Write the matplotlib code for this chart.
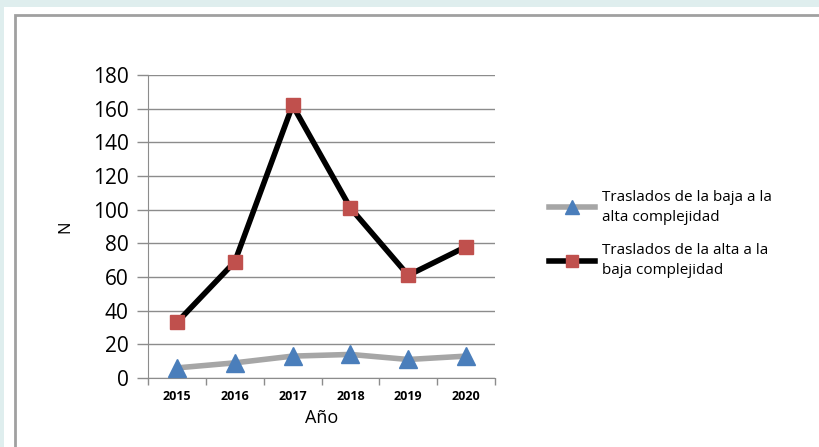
import matplotlib.pyplot as plt
from matplotlib.patches import Rectangle
from matplotlib.lines import Line2D

# ---- data ----
years = ['2015', '2016', '2017', '2018', '2019', '2020']
baja_a_alta = [6, 9, 13, 14, 11, 13]
alta_a_baja = [33, 69, 162, 101, 61, 78]
label_baja = 'Traslados de la baja a la\nalta complejidad'
label_alta = 'Traslados de la alta a la\nbaja complejidad'

plt.rcParams['font.family'] = ['Open Sans', 'DejaVu Sans']

W, H = 819, 447
fig = plt.figure(figsize=(W / 100, H / 100), dpi=100)
fig.patch.set_facecolor('#dfeeee')

# white panel + gray frame
fig.patches.append(Rectangle((4 / W, 0), 1, 1 - 7 / H, transform=fig.transFigure,
                             facecolor='white', edgecolor='none', zorder=-2))
fig.patches.append(Rectangle((14.5 / W, -0.01), 1, 1 - 15 / H + 0.01, transform=fig.transFigure,
                             facecolor='white', edgecolor='#a0a0a0', linewidth=2, zorder=-1))

# plot area: x 148..495, y 75..378 px
ax = fig.add_axes([148 / W, 1 - 378 / H, (495 - 148) / W, (378 - 75) / H])
ax.set_zorder(2)
ax.set_facecolor('none')
x = list(range(len(years)))

ax.plot(x, baja_a_alta, color='#a6a6a6', linewidth=4, marker='^', markersize=13,
        markerfacecolor='#4a7ebb', markeredgecolor='#4a7ebb', zorder=3, clip_on=False)
ax.plot(x, alta_a_baja, color='black', linewidth=4, marker='s', markersize=10,
        markerfacecolor='#c0504d', markeredgecolor='#c0504d', zorder=4, clip_on=False)

ax.set_xlim(-0.5, len(years) - 0.5)
ax.set_ylim(0, 180)
ax.set_yticks(range(0, 181, 20))
ax.set_xticks([])
ax.set_xticks([i - 0.5 for i in range(len(years) + 1)], minor=True)
ax.tick_params(axis='x', which='minor', length=5, color='#8c8c8c', width=1)
ax.tick_params(axis='y', length=8, color='#8c8c8c', width=1, labelsize=15, pad=6)
ax.grid(axis='y', color='#8c8c8c', linewidth=1)
ax.set_axisbelow(True)
for s in ['top', 'right']:
    ax.spines[s].set_visible(False)
for s in ['left', 'bottom']:
    ax.spines[s].set_color('#8c8c8c')

for i, yr in enumerate(years):
    ax.text(i, -11, yr, ha='center', va='center', fontsize=9, fontweight='bold')
ax.text(2.5, -24, 'Año', ha='center', va='center', fontsize=13)
ax.set_ylabel('N', fontsize=12, labelpad=14)

handles = [
    Line2D([], [], color='#a6a6a6', linewidth=4, marker='^', markersize=10,
           markerfacecolor='#4a7ebb', markeredgecolor='#4a7ebb'),
    Line2D([], [], color='black', linewidth=4, marker='s', markersize=9,
           markerfacecolor='#c0504d', markeredgecolor='#c0504d'),
]
leg = fig.legend(handles, [label_baja, label_alta], loc='upper left',
                 bbox_to_anchor=(535 / W, 1 - 176 / H), frameon=False, fontsize=11,
                 handlelength=3.0, handletextpad=0.5, labelspacing=1.2)
for t in leg.get_texts():
    t.set_linespacing(1.45)

fig.savefig('out.png', dpi=100)
